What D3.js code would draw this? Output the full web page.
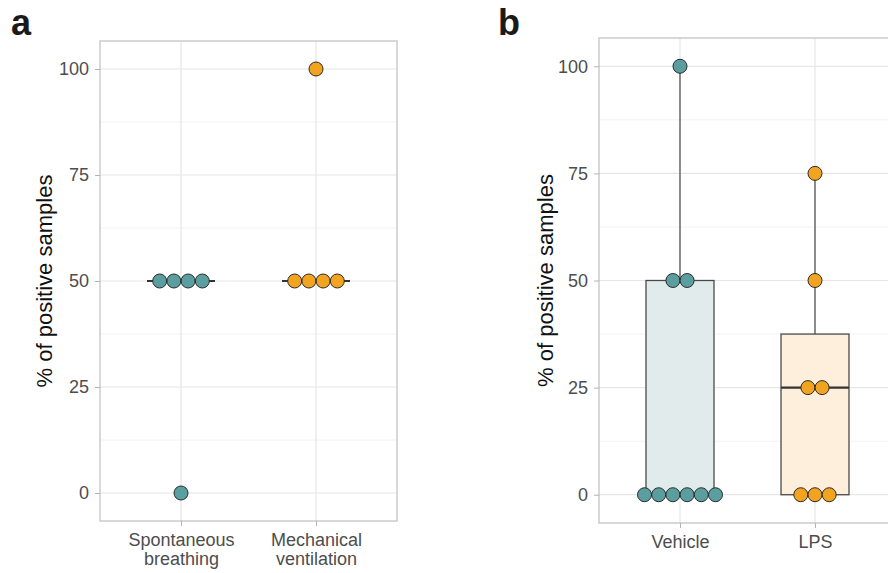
<!DOCTYPE html>
<html>
<head>
<meta charset="utf-8">
<script src="https://cdn.jsdelivr.net/npm/d3@7"></script>
<style>
  body { margin: 0; background: #fff; }
  svg { font-family: "Liberation Sans", Arial, sans-serif; }
  .tick line { stroke: #b3b3b3; }
</style>
</head>
<body>
<div id="chart"></div>
<script>
// Panel a data
var groupsA = ["Spontaneous breathing", "Mechanical ventilation"];
var spontaneous = [50, 50, 50, 50, 0];
var mechanical = [100, 50, 50, 50, 50];

// Panel b data
var groupsB = ["Vehicle", "LPS"];
var vehicle = [100, 50, 50, 0, 0, 0, 0, 0, 0];
var lps = [75, 50, 25, 25, 0, 0, 0];

var yTicks = [0, 25, 50, 75, 100];
var colors = ["#5b9e9f", "#f2a31f"];
var boxFills = ["#e2ebeb", "#fdefdc"];

var W = 888, H = 573;
var svg = d3.select("#chart").append("svg")
    .attr("width", W)
    .attr("height", H);

var dotR = 7, dotStep = 14.2, halfBox = 34;

// offsets for equal values so dots sit side by side
function swarm(values) {
    var counts = d3.rollup(values, v => v.length, d => d);
    var seen = new Map();
    return values.map(v => {
        var k = counts.get(v);
        var i = seen.get(v) || 0;
        seen.set(v, i + 1);
        return {value: v, offset: (i - (k - 1) / 2) * dotStep};
    });
}

function drawPanel(opt) {
    var g = svg.append("g");
    var left = opt.left, top = opt.top, right = opt.left + 297, bottom = opt.bottom;

    var y = d3.scaleLinear().domain([-6.6, 106.6]).range([bottom, top]);
    var x = d3.scalePoint().domain(opt.groups).range([left, right]).padding(0.6);

    // clip for panel b which runs off the page
    var clipId = "clip-" + opt.letter;
    svg.append("clipPath").attr("id", clipId)
        .append("rect").attr("x", left).attr("y", top)
        .attr("width", right - left).attr("height", bottom - top);

    var grid = g.append("g").attr("clip-path", "url(#" + clipId + ")");
    // minor grid
    grid.selectAll(".minor")
        .data(d3.range(12.5, 100, 25))
        .enter().append("line")
        .attr("x1", left).attr("x2", right)
        .attr("y1", d => y(d)).attr("y2", d => y(d))
        .attr("stroke", "#f2f2f2").attr("stroke-width", 1);
    grid.selectAll(".major")
        .data(yTicks)
        .enter().append("line")
        .attr("x1", left).attr("x2", right)
        .attr("y1", d => y(d)).attr("y2", d => y(d))
        .attr("stroke", "#e6e6e6").attr("stroke-width", 1.2);
    grid.selectAll(".vgrid")
        .data(opt.groups)
        .enter().append("line")
        .attr("x1", d => x(d)).attr("x2", d => x(d))
        .attr("y1", top).attr("y2", bottom)
        .attr("stroke", "#e6e6e6").attr("stroke-width", 1.2);

    var marks = g.append("g").attr("clip-path", "url(#" + clipId + ")");

    opt.series.forEach((vals, i) => {
        var cx = x(opt.groups[i]);
        var sorted = vals.slice().sort(d3.ascending);
        var med = d3.quantile(sorted, 0.5);
        if (opt.box) {
            var q1 = d3.quantile(sorted, 0.25), q3 = d3.quantile(sorted, 0.75);
            var iqr = q3 - q1;
            var hi = d3.max(sorted.filter(v => v <= q3 + 1.5 * iqr));
            var lo = d3.min(sorted.filter(v => v >= q1 - 1.5 * iqr));
            marks.append("line")
                .attr("x1", cx).attr("x2", cx)
                .attr("y1", y(q3)).attr("y2", y(hi))
                .attr("stroke", "#555").attr("stroke-width", 1.3);
            marks.append("line")
                .attr("x1", cx).attr("x2", cx)
                .attr("y1", y(q1)).attr("y2", y(lo))
                .attr("stroke", "#555").attr("stroke-width", 1.3);
            marks.append("rect")
                .attr("x", cx - halfBox).attr("width", halfBox * 2)
                .attr("y", y(q3)).attr("height", y(q1) - y(q3))
                .attr("fill", boxFills[i])
                .attr("stroke", "#4a4a4a").attr("stroke-width", 1.3);
        }
        marks.append("line")
            .attr("x1", cx - halfBox).attr("x2", cx + halfBox)
            .attr("y1", y(med)).attr("y2", y(med))
            .attr("stroke", "#333").attr("stroke-width", 2.2);

        marks.selectAll(".dot-" + i)
            .data(swarm(vals))
            .enter().append("circle")
            .attr("cx", d => cx + d.offset)
            .attr("cy", d => y(d.value))
            .attr("r", dotR)
            .attr("fill", colors[i])
            .attr("stroke", "#2b2b2b").attr("stroke-width", 1);
    });

    // panel border
    g.append("rect")
        .attr("x", left).attr("y", top)
        .attr("width", right - left).attr("height", bottom - top)
        .attr("fill", "none").attr("stroke", "#c8c8c8").attr("stroke-width", 1.4);

    // axes
    var yAxis = g.append("g")
        .attr("transform", "translate(" + left + ",0)")
        .call(d3.axisLeft(y).tickValues(yTicks).tickSize(5).tickPadding(6));
    yAxis.select(".domain").remove();
    yAxis.selectAll("text")
        .style("font-family", "Liberation Sans, Arial, sans-serif")
        .style("font-size", "18px")
        .style("fill", "#4d4d4d");

    var xAxis = g.append("g")
        .attr("transform", "translate(0," + bottom + ")")
        .call(d3.axisBottom(x).tickSize(5).tickPadding(7));
    xAxis.select(".domain").remove();
    xAxis.selectAll(".tick text").remove();
    // two-line category labels, one text per line
    xAxis.selectAll(".tick").each(function(d) {
        var words = d.split(" ");
        var t = d3.select(this);
        words.forEach((w, k) => {
            t.append("text")
                .attr("y", 12 + k * 19)
                .attr("dy", "0.71em")
                .attr("text-anchor", "middle")
                .style("font-family", "Liberation Sans, Arial, sans-serif")
                .style("font-size", "18px")
                .style("fill", "#4d4d4d")
                .text(w);
        });
    });

    // axis title
    g.append("text")
        .attr("transform", "translate(" + opt.titleX + "," + ((top + bottom) / 2) + ") rotate(-90)")
        .attr("text-anchor", "middle")
        .attr("dy", "0.35em")
        .style("font-size", "22px")
        .style("fill", "#111")
        .text("% of positive samples");

    // panel letter
    g.append("text")
        .attr("x", opt.letterX).attr("y", 35)
        .style("font-size", "36px")
        .style("font-weight", "bold")
        .style("fill", "#1a1a1a")
        .text(opt.letter);
}

drawPanel({letter: "a", letterX: 11, left: 100, top: 41, bottom: 521, titleX: 44,
           groups: groupsA, series: [spontaneous, mechanical], box: false});
drawPanel({letter: "b", letterX: 498, left: 599, top: 38, bottom: 523, titleX: 545,
           groups: groupsB, series: [vehicle, lps], box: true});
</script>
</body>
</html>
